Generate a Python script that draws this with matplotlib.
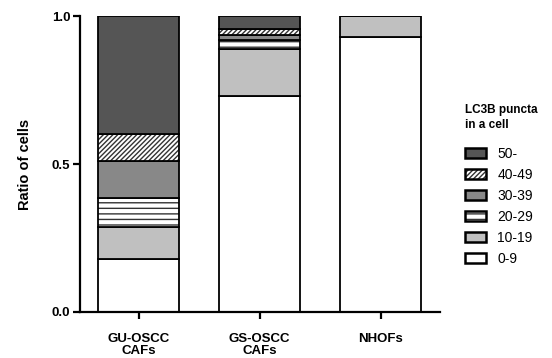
import matplotlib
matplotlib.use("Agg")
import matplotlib.pyplot as plt
import numpy as np

plt.rcParams['font.family'] = ['Liberation Sans', 'DejaVu Sans']
plt.rcParams['hatch.linewidth'] = 1.0

groups = ['GU-OSCC\nCAFs', 'GS-OSCC\nCAFs', 'NHOFs']
bins = ['0-9', '10-19', '20-29', '30-39', '40-49', '50-']

# fraction of cells per puncta bin, one list per group
gu_oscc = [0.178, 0.109, 0.097, 0.128, 0.091, 0.397]
gs_oscc = [0.731, 0.157, 0.030, 0.018, 0.020, 0.044]
nhofs = [0.930, 0.070, 0.0, 0.0, 0.0, 0.0]

colors = ['white', '#c0c0c0', 'white', '#888888', 'white', '#555555']
hatches = [None, None, '---', None, '///////', None]

data = np.array([gu_oscc, gs_oscc, nhofs])
x = np.arange(len(groups))

fig = plt.figure(figsize=(5.52, 3.58), dpi=100)
ax = fig.add_axes([0.145, 0.1285, 0.652, 0.8265])

bottom = np.zeros(len(groups))
handles = []
for i, b in enumerate(bins):
    bars = ax.bar(x, data[:, i], 0.67, bottom=bottom, color=colors[i],
                  edgecolor='black', linewidth=1.3, hatch=hatches[i],
                  label=b, zorder=2)
    for p in bars:
        p._hatch_color = matplotlib.colors.to_rgba('#333333')
    handles.append(bars)
    bottom += data[:, i]

ax.set_xlim(-0.483, 2.49)
ax.set_ylim(0, 1.0)
ax.set_yticks([0, 0.5, 1.0])
ax.set_yticklabels(['0.0', '0.5', '1.0'])
ax.set_xticks(x)
ax.set_xticklabels(groups, linespacing=1.0)
for s in ['top', 'right']:
    ax.spines[s].set_visible(False)
for s in ['left', 'bottom']:
    ax.spines[s].set_linewidth(1.6)
ax.tick_params(axis='both', width=1.6, length=5, labelsize=9.5)
ax.tick_params(axis='x', pad=10)
ax.tick_params(axis='y', pad=2)
for t in ax.get_xticklabels() + ax.get_yticklabels():
    t.set_fontweight('bold')
ax.set_ylabel('Ratio of cells', fontsize=10.5, fontweight='bold', labelpad=14)

leg = ax.legend(handles[::-1], bins[::-1], loc='upper left',
                bbox_to_anchor=(0.842, 0.71), bbox_transform=fig.transFigure,
                frameon=False, fontsize=10, title='LC3B puncta\nin a cell',
                title_fontproperties={'weight': 'bold', 'size': 8.5},
                alignment='left', handlelength=1.55, handleheight=0.7,
                labelspacing=0.5, handletextpad=0.8, borderpad=0, borderaxespad=0)
leg._legend_title_box._text.set_linespacing(1.3)
leg._legend_box.sep = 12
for h in leg.legend_handles:
    h.set_linewidth(1.8)

fig.savefig('out.png', dpi=100)
